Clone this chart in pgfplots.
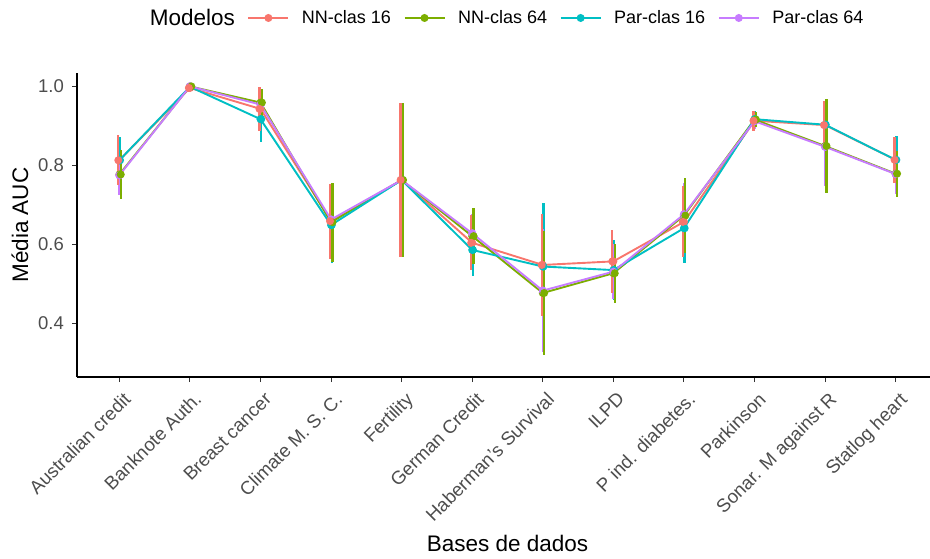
\documentclass[border=0pt]{standalone}
\usepackage{fontspec}
\setmainfont{Liberation Sans}
\usepackage{pgfplots}
\usepackage{pgfplotstable}
\pgfplotsset{compat=1.18}
\definecolor{cR}{HTML}{F8766D}
\definecolor{cG}{HTML}{7CAE00}
\definecolor{cC}{HTML}{00BFC4}
\definecolor{cP}{HTML}{C77CFF}
\definecolor{tickgray}{HTML}{4D4D4D}
\definecolor{tickmark}{HTML}{333333}

% x  mean  sd
\pgfplotstableread{
x y e
1 0.812 0.063
2 0.995 0.006
3 0.942 0.055
4 0.658 0.095
5 0.762 0.196
6 0.603 0.070
7 0.547 0.130
8 0.556 0.080
9 0.656 0.090
10 0.912 0.025
11 0.901 0.060
12 0.813 0.058
}\nnsixteen
\pgfplotstableread{
x y e
1 0.776 0.062
2 0.999 0.003
3 0.958 0.035
4 0.655 0.100
5 0.762 0.196
6 0.620 0.070
7 0.476 0.157
8 0.526 0.075
9 0.672 0.095
10 0.915 0.020
11 0.848 0.118
12 0.778 0.058
}\nnsixtyfour
\pgfplotstableread{
x y e
1 0.812 0.058
2 0.998 0.004
3 0.916 0.058
4 0.648 0.095
5 0.762 0.190
6 0.585 0.065
7 0.543 0.162
8 0.534 0.075
9 0.640 0.088
10 0.916 0.020
11 0.902 0.065
12 0.813 0.060
}\parsixteen
\pgfplotstableread{
x y e
1 0.774 0.050
2 0.999 0.004
3 0.953 0.040
4 0.662 0.090
5 0.762 0.190
6 0.627 0.050
7 0.482 0.155
8 0.530 0.070
9 0.675 0.080
10 0.911 0.020
11 0.846 0.100
12 0.777 0.050
}\parsixtyfour

\begin{document}
\begin{tikzpicture}
\begin{axis}[
  scale only axis,
  width=861pt, height=304pt,
  xmin=0.4, xmax=12.6,
  ymin=0.2633, ymax=1.0329,
  axis lines*=left,
  axis line style={line width=1.1pt, black},
  tick align=outside,
  major tick length=5pt,
  tick style={line width=1pt, tickmark},
  xtick={1,...,12},
  xticklabels={Australian credit, Banknote Auth., Breast cancer, Climate M. S. C., Fertility, German Credit, Haberman’s Survival, ILPD, P ind. diabetes., Parkinson, Sonar. M against R, Statlog heart},
  ytick={0.4,0.6,0.8,1.0},
  /pgf/number format/fixed, /pgf/number format/fixed zerofill, /pgf/number format/precision=1,
  /pgf/number format/assume math mode=true,
  yticklabel style={font=\fontsize{18.5}{21}\selectfont, text=tickgray, inner sep=0pt, anchor=east, xshift=-8pt},
  xticklabel style={xshift=3pt, yshift=-9pt, font=\fontsize{18.7}{21}\selectfont, text=tickgray, inner sep=0pt, rotate=45, anchor=north east},
  xlabel={Bases de dados},
  ylabel={Média AUC},
  every axis x label/.style={at={(axis description cs:0.5,0)}, anchor=center, yshift=-166pt, font=\fontsize{22.5}{26}\selectfont},
  every axis y label/.style={at={(axis description cs:-0.0662,0.5)}, rotate=90, anchor=center, font=\fontsize{22.5}{26}\selectfont},
  legend columns=-1,
  legend style={at={(axis description cs:0.0697,1.181)}, anchor=west, draw=none, fill=none,
    font=\fontsize{18}{21}\selectfont, inner sep=0pt, column sep=10.6pt},
  legend image code/.code={\draw[#1, mark repeat=2, mark phase=2] plot coordinates {(0pt,0pt) (20pt,0pt) (40pt,0pt)};},
  every axis plot/.append style={line width=1.9pt, mark=*, mark size=3pt, mark options={solid}},
]
\addlegendimage{empty legend}
\addlegendentry{\fontsize{22.5}{26}\selectfont Modelos}
\addplot[color=cR] table[x=x,y=y] {\nnsixteen};
\addlegendentry{NN-clas 16}
\addplot[color=cG] table[x=x,y=y] {\nnsixtyfour};
\addlegendentry{NN-clas 64}
\addplot[color=cC] table[x=x,y=y] {\parsixteen};
\addlegendentry{Par-clas 16}
\addplot[color=cP] table[x=x,y=y] {\parsixtyfour};
\addlegendentry{Par-clas 64}
% error bars
\addplot[forget plot, only marks, mark=none, color=cC,
  error bars/.cd, y dir=both, y explicit, error mark=none,
  error bar style={line width=2.3pt, color=cC}]
  table[x expr=\thisrow{x}+0.01, y=y, y error=e] {\parsixteen};
\addplot[forget plot, only marks, mark=none, color=cP,
  error bars/.cd, y dir=both, y explicit, error mark=none,
  error bar style={line width=2.3pt, color=cP}]
  table[x expr=\thisrow{x}+0.0, y=y, y error=e] {\parsixtyfour};
\addplot[forget plot, only marks, mark=none, color=cG,
  error bars/.cd, y dir=both, y explicit, error mark=none,
  error bar style={line width=2.3pt, color=cG}]
  table[x expr=\thisrow{x}+0.02, y=y, y error=e] {\nnsixtyfour};
\addplot[forget plot, only marks, mark=none, color=cR,
  error bars/.cd, y dir=both, y explicit, error mark=none,
  error bar style={line width=2.3pt, color=cR}]
  table[x expr=\thisrow{x}-0.015, y=y, y error=e] {\nnsixteen};
\end{axis}
\pgfresetboundingbox
\path (-77pt,-181pt) rectangle (853pt,377pt);
\end{tikzpicture}
\end{document}
